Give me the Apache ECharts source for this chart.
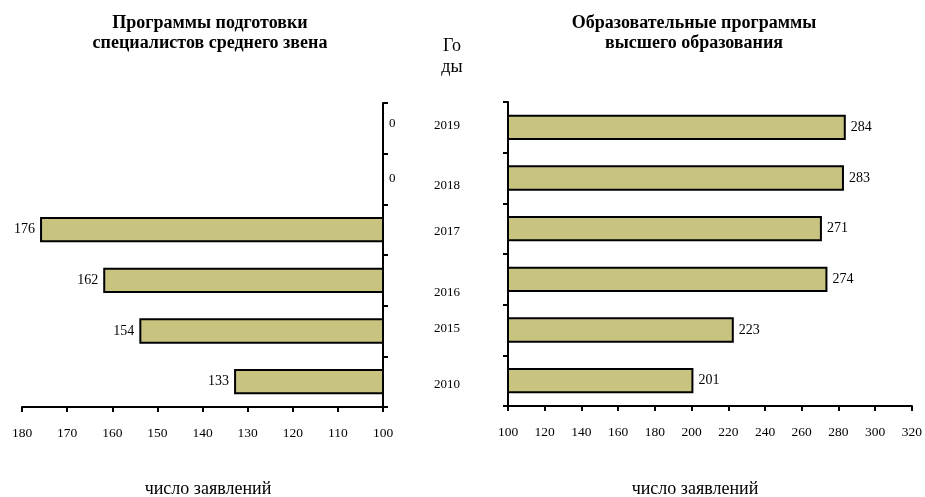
<!DOCTYPE html>
<html>
<head>
<meta charset="utf-8">
<script src="https://cdn.jsdelivr.net/npm/echarts@6/dist/echarts.min.js"></script>
<style>
  html, body { margin: 0; padding: 0; background: #fff; }
  #chart { width: 925px; height: 497px; }
</style>
</head>
<body>
<div id="chart"></div>
<script>
// годы (сверху вниз)
const years = ['2019', '2018', '2017', '2016', '2015', '2010']
// программы подготовки специалистов среднего звена
const spoValues = [0, 0, 176, 162, 154, 133]
// образовательные программы высшего образования
const vpoValues = [284, 283, 271, 274, 223, 201]
// смещение подписей годов по вертикали, как на оригинале
const yearShift = [-2, 8, 3, 13, -1, 4]
const zeroShift = [-5, 0, 0, 0, 0, 0]

const serif = 'Liberation Serif'
const barColor = '#c9c380'

const chart = echarts.init(document.getElementById('chart'))

const axisCommon = {
  axisLine: {show: true, lineStyle: {color: '#000', width: 2}},
  axisTick: {show: true, length: 5, lineStyle: {color: '#000', width: 2}},
  splitLine: {show: false},
}

// rich-стили для сдвига подписей по вертикали
const shiftRich = (shifts, prefix) => {
  const rich = {}
  shifts.forEach((d, i) => {
    rich[prefix + i] = {
      fontFamily: serif,
      fontSize: 13,
      color: '#000',
      padding: d > 0 ? [2 * d, 0, 0, 0] : [0, 0, -2 * d, 0],
    }
  })
  return rich
}

const titleStyle = {fontFamily: serif, fontSize: 18, fontWeight: 'bold', color: '#000', lineHeight: 20}
const captionStyle = {fontFamily: serif, fontSize: 18, fontWeight: 'normal', color: '#000'}

chart.setOption({
  animation: false,
  title: [
    {
      text: 'Программы подготовки\nспециалистов среднего звена',
      left: 205,
      top: 8,
      textAlign: 'center',
      textStyle: titleStyle,
    },
    {
      text: 'Образовательные программы\nвысшего образования',
      left: 689,
      top: 8,
      textAlign: 'center',
      textStyle: titleStyle,
    },
    {
      text: 'Го\nды',
      left: 447,
      top: 31,
      textAlign: 'center',
      textStyle: {...captionStyle, lineHeight: 21},
    },
    {
      text: 'число заявлений',
      left: 203,
      top: 475,
      textAlign: 'center',
      textStyle: captionStyle,
    },
    {
      text: 'число заявлений',
      left: 690,
      top: 475,
      textAlign: 'center',
      textStyle: captionStyle,
    },
  ],
  grid: [
    {left: 22, right: 542, top: 103, bottom: 90},
    {left: 508, right: 12, top: 102, bottom: 91},
  ],
  xAxis: [
    {
      ...axisCommon,
      gridIndex: 0,
      type: 'value',
      min: 100,
      max: 180,
      interval: 10,
      inverse: true,
      axisLabel: {fontFamily: serif, fontSize: 13.5, color: '#000', margin: 19},
    },
    {
      ...axisCommon,
      gridIndex: 1,
      type: 'value',
      min: 100,
      max: 320,
      interval: 20,
      axisLabel: {fontFamily: serif, fontSize: 13.5, color: '#000', margin: 19},
    },
  ],
  yAxis: [
    {
      ...axisCommon,
      gridIndex: 0,
      type: 'category',
      data: years,
      inverse: true,
      position: 'right',
      // нулевые значения подписываются у оси
      axisLabel: {
        margin: 6,
        formatter: (v, i) => (spoValues[i] === 0 ? `{z${i}|0}` : ''),
        rich: shiftRich(zeroShift, 'z'),
      },
    },
    {
      ...axisCommon,
      gridIndex: 1,
      type: 'category',
      data: years,
      inverse: true,
      axisLabel: {
        margin: 48,
        formatter: (v, i) => `{y${i}|${v}}`,
        rich: shiftRich(yearShift, 'y'),
      },
    },
  ],
  series: [
    {
      type: 'bar',
      xAxisIndex: 0,
      yAxisIndex: 0,
      barWidth: '50%',
      data: spoValues.map((v) => (v === 0 ? '-' : v)),
      itemStyle: {color: barColor, borderColor: '#000', borderWidth: 2},
      label: {show: true, position: 'left', distance: 5, fontFamily: serif, fontSize: 14, color: '#000'},
    },
    {
      type: 'bar',
      xAxisIndex: 1,
      yAxisIndex: 1,
      barWidth: '50%',
      data: vpoValues,
      itemStyle: {color: barColor, borderColor: '#000', borderWidth: 2},
      label: {show: true, position: 'right', distance: 5, fontFamily: serif, fontSize: 14, color: '#000'},
    },
  ],
})
</script>
</body>
</html>
